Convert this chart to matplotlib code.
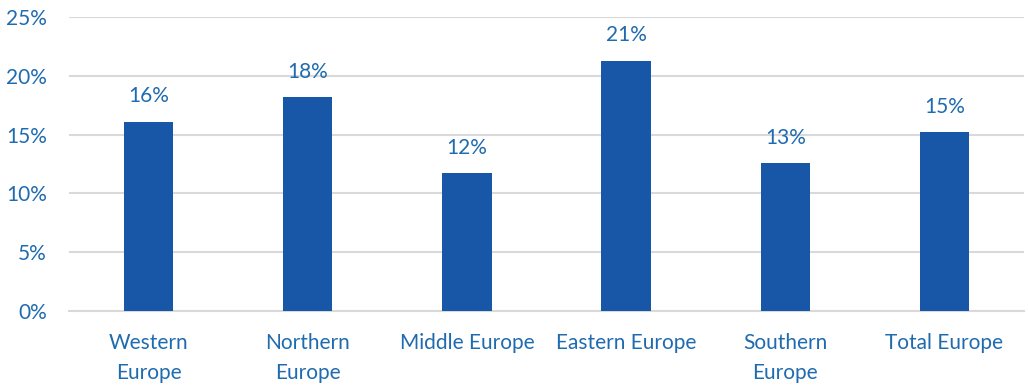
import matplotlib.pyplot as plt

regions = ['Western\nEurope', 'Northern\nEurope', 'Middle Europe', 'Eastern Europe', 'Southern\nEurope', 'Total Europe']
shares = [16.1, 18.2, 11.7, 21.3, 12.6, 15.2]
labels = ['16%', '18%', '12%', '21%', '13%', '15%']
yticks = [0, 5, 10, 15, 20, 25]

bar_color = '#1857A7'
text_color = '#1F6BB0'

plt.rcParams['font.family'] = ['Lato', 'DejaVu Sans']

fig = plt.figure(figsize=(10.28, 3.89), dpi=100)
ax = fig.add_axes([69 / 1028, 78 / 389, 955 / 1028, 294 / 389])

x = range(len(regions))
ax.bar(x, shares, width=0.31, color=bar_color, zorder=3)
for i, (v, lab) in enumerate(zip(shares, labels)):
    ax.annotate(lab, (i, v), xytext=(0, 11), textcoords='offset points',
                ha='center', va='bottom', color=text_color, fontsize=15)

ax.set_xlim(-0.5, len(regions) - 0.5)
ax.set_ylim(0, 25)
ax.set_yticks(yticks)
ax.set_yticklabels([f'{t}%' for t in yticks])
ax.set_xticks(list(x))
ax.set_xticklabels(regions, linespacing=1.6)
ax.tick_params(axis='both', length=0, labelcolor=text_color, labelsize=15)
ax.tick_params(axis='y', pad=16)
ax.tick_params(axis='x', pad=16)
ax.grid(axis='y', color='#D9D9D9', linewidth=1.5, zorder=0)
for s in ['top', 'right', 'left']:
    ax.spines[s].set_visible(False)
ax.spines['bottom'].set_color('#D9D9D9')
ax.spines['bottom'].set_linewidth(1.5)

fig.savefig('out.png', dpi=100)
